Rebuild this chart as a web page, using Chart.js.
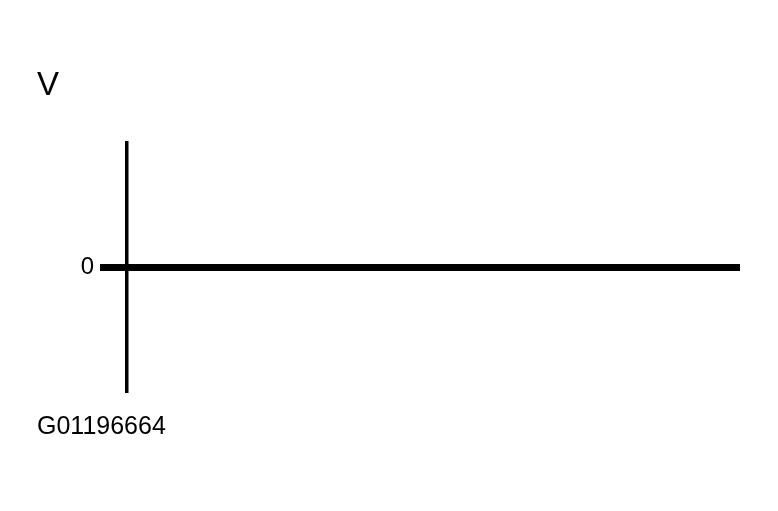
<!DOCTYPE html>
<html>
<head>
<meta charset="utf-8">
<script src="https://cdn.jsdelivr.net/npm/chart.js"></script>
<style>
  html, body { margin: 0; padding: 0; background: #ffffff; }
  #wrap { width: 778px; height: 511px; }
</style>
</head>
<body>
<div id="wrap"><canvas id="c" width="778" height="511"></canvas></div>
<script>
const axisTitle = 'V';
const figureId = 'G01196664';
const timeValues = [0, 100];
const voltageValues = [0, 0];
const yTickValues = [0];
const yTickLabels = ['0'];

const points = timeValues.map((t, i) => ({ x: t, y: voltageValues[i] }));
const FONT = "'Liberation Sans', Arial, Helvetica, sans-serif";

new Chart(document.getElementById('c'), {
  type: 'line',
  data: {
    datasets: [{
      data: points,
      borderColor: '#000000',
      borderWidth: 7,
      borderCapStyle: 'round',
      pointRadius: 0,
      tension: 0,
      fill: false
    }]
  },
  options: {
    responsive: false,
    animation: false,
    devicePixelRatio: 1,
    layout: { padding: { left: 37, right: 38, top: 0, bottom: 0 } },
    plugins: {
      legend: { display: false },
      tooltip: { enabled: false },
      title: {
        display: true,
        text: axisTitle,
        align: 'start',
        color: '#000000',
        font: { family: FONT, size: 33, weight: 'normal', lineHeight: 1.2 },
        padding: { top: 66, bottom: 37.4 }
      },
      subtitle: {
        display: true,
        text: figureId,
        position: 'bottom',
        align: 'start',
        color: '#000000',
        font: { family: FONT, size: 25, weight: 'normal', lineHeight: 1.2 },
        padding: { top: 20.5, bottom: 68.5 }
      }
    },
    scales: {
      x: {
        type: 'linear',
        display: false,
        min: 0,
        max: 100
      },
      y: {
        type: 'linear',
        min: -1,
        max: 1,
        afterBuildTicks: (axis) => { axis.ticks = yTickValues.map(v => ({ value: v })); },
        afterFit: (axis) => { axis.width = 90; },
        ticks: {
          color: '#000000',
          padding: 6,
          font: { family: FONT, size: 24 },
          callback: (value) => {
            const i = yTickValues.indexOf(value);
            return i >= 0 ? yTickLabels[i] : '';
          }
        },
        grid: {
          display: true,
          drawOnChartArea: false,
          drawTicks: true,
          tickLength: 27,
          tickWidth: 7,
          tickColor: '#000000',
          color: '#000000'
        },
        border: {
          display: true,
          color: '#000000',
          width: 3.5
        }
      }
    }
  }
});
</script>
</body>
</html>
